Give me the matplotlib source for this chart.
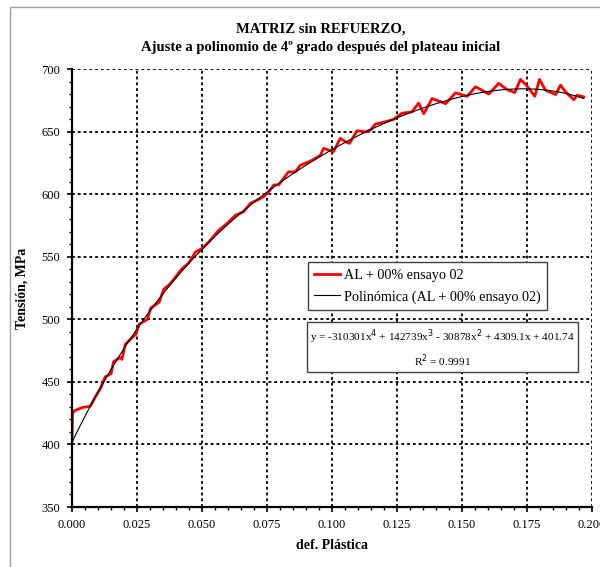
import numpy as np
import matplotlib
matplotlib.use("Agg")
import matplotlib.pyplot as plt
from matplotlib.patches import Rectangle
from matplotlib.ticker import MultipleLocator, FormatStrFormatter

# ensayo data (def. plastica, tension MPa)
deformacion = [0.0000, 0.0002, 0.0010, 0.0040, 0.0070, 0.0090, 0.0110, 0.0128,
               0.0150, 0.0160, 0.0185, 0.0192, 0.0205, 0.0245, 0.0258, 0.0290,
               0.0303, 0.0335, 0.0353, 0.0378, 0.0423, 0.0449, 0.0475, 0.0500,
               0.0526, 0.0564, 0.0596, 0.0628, 0.0660, 0.0686, 0.0718, 0.0737,
               0.0757, 0.0776, 0.0795, 0.0833, 0.0859, 0.0878, 0.0923, 0.0955,
               0.0968, 0.0987, 0.1006, 0.1032, 0.1052, 0.1067, 0.1096, 0.1128,
               0.1148, 0.1167, 0.1205, 0.1237, 0.1269, 0.1308, 0.1333, 0.1353,
               0.1385, 0.1437, 0.1475, 0.1520, 0.1552, 0.1603, 0.1641, 0.1673,
               0.1703, 0.1725, 0.1747, 0.1780, 0.1798, 0.1821, 0.1860, 0.1879,
               0.1898, 0.1930, 0.1943, 0.1968]
tension = [403.0, 425.0, 427.0, 429.5, 430.5, 438.0, 445.0, 454.0,
           456.5, 466.0, 469.5, 468.0, 480.0, 488.0, 496.0, 500.0,
           509.0, 513.6, 524.0, 528.4, 540.4, 545.0, 553.8, 556.5,
           561.8, 571.0, 576.5, 583.0, 586.0, 592.6, 595.8, 598.0,
           602.0, 607.3, 607.5, 617.8, 617.8, 623.0, 627.0, 631.0,
           636.6, 635.2, 634.0, 644.6, 641.8, 640.6, 650.6, 649.8,
           651.2, 656.0, 657.8, 659.8, 664.6, 665.8, 672.8, 664.3,
           676.4, 672.3, 680.9, 678.2, 685.8, 680.0, 688.5, 683.6,
           681.2, 691.7, 687.1, 678.2, 691.7, 683.1, 679.6, 687.1,
           681.7, 675.5, 679.0, 677.7]

# trendline coefficients as printed on the chart (x^4 ... x^0)
coef_poli = [-310301, 142739, -30878, 4309.1, 401.74]
r2 = 0.9991

plt.rcParams['font.family'] = ['Liberation Serif', 'DejaVu Serif']

fig = plt.figure(figsize=(6.0, 5.67), dpi=100)
ax = fig.add_axes([72 / 600, 1 - 507 / 567, 520 / 600, 438 / 567])

# gray chart frame
fig.patches.append(Rectangle((10 / 600, -0.2), 1.2, 1 - 7 / 567 + 0.2,
                             transform=fig.transFigure, fill=False,
                             edgecolor='#a0a0a0', linewidth=1.0))

x_fit = np.linspace(0, max(deformacion), 200)
y_fit = np.polyval(coef_poli, x_fit)

ax.plot(deformacion, tension, color='#ff0000', linewidth=2.0,
        solid_joinstyle='round', label='AL + 00% ensayo 02', zorder=3)
ax.plot(x_fit, y_fit, color='black', linewidth=0.8,
        label='Polinómica (AL + 00% ensayo 02)', zorder=4)

ax.set_xlim(0, 0.2)
ax.set_ylim(350, 700)
ax.xaxis.set_major_locator(MultipleLocator(0.025))
ax.xaxis.set_minor_locator(MultipleLocator(0.005))
ax.xaxis.set_major_formatter(FormatStrFormatter('%.3f'))
ax.yaxis.set_major_locator(MultipleLocator(50))
ax.yaxis.set_minor_locator(MultipleLocator(10))

ax.grid(True, which='major', color='black', linestyle=(0, (1.6, 1.6)),
        linewidth=1.3)
ax.set_axisbelow(True)
for s in ['top', 'right']:
    ax.spines[s].set_visible(False)
for s in ['left', 'bottom']:
    ax.spines[s].set_linewidth(1.6)
    ax.spines[s].set_zorder(5)

ax.tick_params(which='major', direction='out', length=3.5, width=1.2,
               labelsize=9, pad=5)
ax.tick_params(which='minor', direction='out', length=2.5, width=1.0)
ax.tick_params(axis='x', pad=5)

ax.set_xlabel('def. Plástica', fontsize=10, fontweight='bold')
ax.set_ylabel('Tensión, MPa', fontsize=10, fontweight='bold')
ax.xaxis.set_label_coords(0.5, (507 - 539) / 438)
ax.yaxis.set_label_coords((29 - 72) / 520, 0.5)
fig.text(0.535, 1 - 29 / 567, 'MATRIZ sin REFUERZO,', ha='center',
         va='center', fontsize=10.5, fontweight='bold')
fig.text(0.535, 1 - 48 / 567,
         'Ajuste a polinomio de 4º grado después del plateau inicial',
         ha='center', va='center', fontsize=10.5, fontweight='bold')

leg = ax.legend(loc='upper left', bbox_to_anchor=(0.454, 0.559),
                fontsize=10.2, frameon=True, fancybox=False,
                edgecolor='#404040', framealpha=1, handlelength=1.8,
                borderpad=0.45, labelspacing=0.6, handletextpad=0.3,
                borderaxespad=0)
leg.get_frame().set_linewidth(1.0)
leg.set_zorder(6)

ecuacion = ('y = -%dx$^{4}$ + %dx$^{3}$ - %dx$^{2}$ + %.1fx + %.2f\nR$^{2}$ = %.4f'
            % (-coef_poli[0], coef_poli[1], -coef_poli[2], coef_poli[3],
               coef_poli[4], r2))
ax.text(0.713, 0.362, ecuacion, transform=ax.transAxes, ha='center',
        va='center', fontsize=8.1, linespacing=1.45, zorder=6,
        bbox=dict(boxstyle='square,pad=0.3', facecolor='white',
                  edgecolor='#404040', linewidth=1.0))

fig.savefig('out.png', dpi=100)
